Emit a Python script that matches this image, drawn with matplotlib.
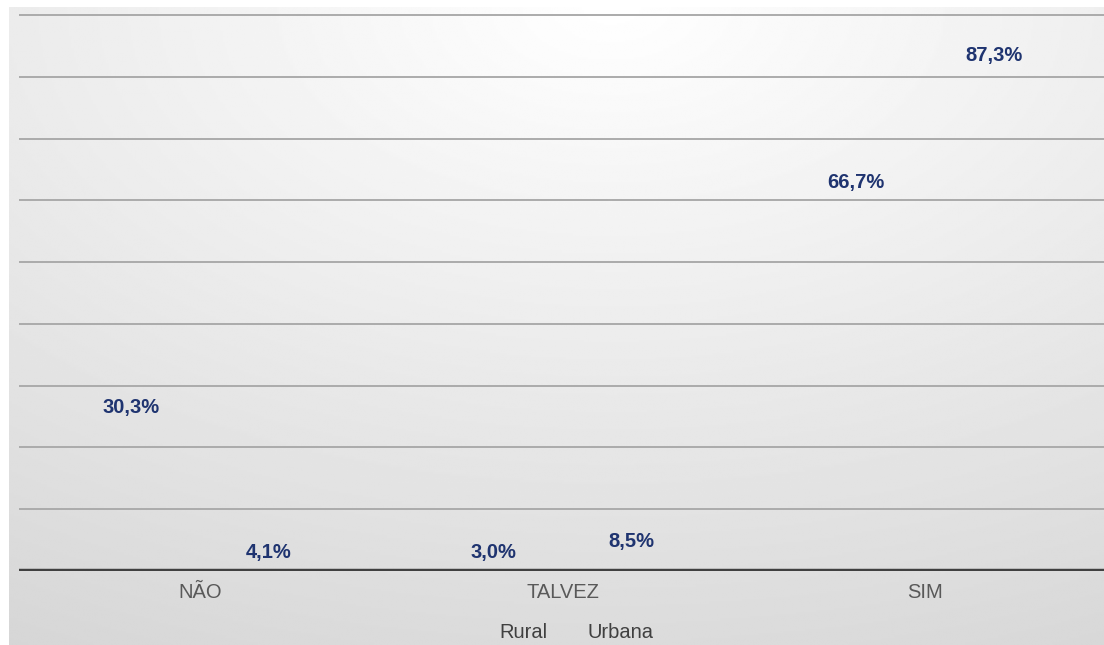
import numpy as np
import matplotlib
matplotlib.use("Agg")
import matplotlib.pyplot as plt

# data
categories = ["NÃO", "TALVEZ", "SIM"]
series_names = ["Rural", "Urbana"]
rural = [30.3, 3.0, 66.7]
urbana = [4.1, 8.5, 87.3]

plt.rcParams["font.family"] = ["Liberation Sans", "DejaVu Sans"]

W, H = 1104, 645
fig = plt.figure(figsize=(W / 100, H / 100), dpi=100)
fig.patch.set_facecolor("white")

# background panel with a soft radial gradient
bg = fig.add_axes([9 / W, 0, 1 - 9 / W, 1 - 7 / H], zorder=0)
yy, xx = np.mgrid[0:1:300j, 0:1:500j]
dist = np.sqrt((xx - 0.55) ** 2 + yy ** 2)
shade = np.clip(255 - 36 * dist, 0, 255) / 255.0
bg.imshow(shade, cmap="gray", vmin=0, vmax=1, aspect="auto",
          extent=[0, 1, 1, 0], interpolation="bilinear")
bg.axis("off")

# main chart axes
left_px, right_px = 18.5, 1106.5
base_px, top_px = 571, 7
ax = fig.add_axes([left_px / W, (H - base_px) / H,
                   (right_px - left_px) / W, (base_px - top_px) / H], zorder=1)
ax.patch.set_alpha(0)
ax.set_xlim(-0.5, 2.5)
ymax = 90 + (15 - top_px) / ((base_px - 15) / 90)
ax.set_ylim(0, ymax)

x = np.arange(len(categories))
offset = 0.19
width = 0.3
ax.bar(x - offset, rural, width, color="none", label=series_names[0])
ax.bar(x + offset, urbana, width, color="none", label=series_names[1])

for vals, sign in [(rural, -1), (urbana, 1)]:
    for i, v in enumerate(vals):
        txt = f"{v:.1f}%".replace(".", ",")
        ax.text(x[i] + sign * offset, max(v - 3.8, 3.0), txt, ha="center",
                va="center", fontsize=14.5, fontweight="bold", color="#1F3470")

for g in range(10, 100, 10):
    ax.axhline(g, color="#ababab", linewidth=1.4, zorder=0)
ax.axhline(0, color="#404040", linewidth=3.2, zorder=2)

for s in ax.spines.values():
    s.set_visible(False)
ax.set_yticks([])
ax.set_xticks(x)
ax.set_xticklabels(categories, fontsize=14.5, color="#595959")
ax.tick_params(axis="x", length=0, pad=9)

leg = fig.legend(loc="center", bbox_to_anchor=(560 / W, (H - 632) / H),
                 ncol=2, frameon=False, fontsize=14.5, labelcolor="#404040",
                 handlelength=1.0, columnspacing=0.4, handletextpad=0.6)

fig.savefig("out.png", dpi=100)
